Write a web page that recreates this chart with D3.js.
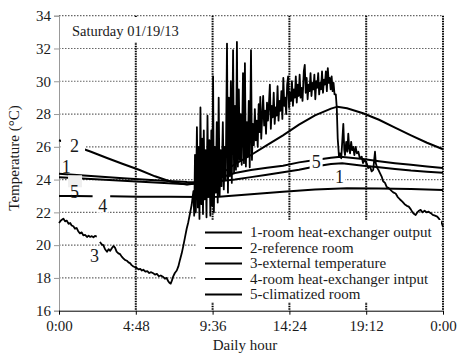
<!DOCTYPE html>
<meta charset="utf-8">
<html>
<head>
<style>
body { margin: 0; background: #fff; }
text { font-family: "Liberation Serif", "Times New Roman", serif; fill: #1a1a1a; }
</style>
</head>
<body>
<svg width="459" height="354"></svg>
<script src="https://d3js.org/d3.v7.min.js"></script>
<script>

// hours of the day (0-24) and temperature in degC
var xTicks = [0, 4.8, 9.6, 14.4, 19.2, 24];
var xTickLabels = ["0:00", "4:48", "9:36", "14:24", "19:12", "0:00"];
var yTicks = [16, 18, 20, 22, 24, 26, 28, 30, 32, 34];

var legendLabels = ["1-room heat-exchanger output", "2-reference room", "3-external temperature",
  "4-room heat-exchanger intput", "5-climatized room"];

// 1 - room heat-exchanger output
var series1 = [[0,24.35],[2,24.22],[4,24.08],[6,23.96],[8,23.85],[9,23.84],[10,23.9],[11,24.0],[12,24.15],
  [13,24.3],[14,24.45],[15,24.6],[16,24.8],[17,24.95],[17.7,25.0],[19,24.85],[20,24.75],[21,24.65],
  [22,24.55],[23,24.48],[24,24.42]];

// 2 - reference room
var series2 = [[0,26.4],[1,26.05],[2,25.7],[3,25.32],[4,24.95],[5,24.6],[6,24.2],[7,23.87],[8,23.7],
  [9,23.8],[9.5,24.0],[10,24.3],[10.5,24.6],[11,24.95],[12,25.5],[13,26.1],[14,26.7],[15,27.35],
  [16,27.92],[17,28.33],[17.4,28.45],[18,28.35],[19,28.05],[20,27.65],[21,27.17],[22,26.7],[23,26.25],[24,25.85]];

// 3 - external temperature (logger gap around 2:30)
var series3 = [[0,21.35],[0.12,21.5],[0.27,21.62],[0.38,21.45],[0.48,21.5],[0.6,21.3],[0.7,21.35],[0.79,21.2],
  [0.9,21.15],[1.0,21.0],[1.1,21.05],[1.2,20.85],[1.31,20.72],[1.42,20.78],[1.52,20.6],[1.63,20.62],[1.75,20.5],
  [1.85,20.58],[1.94,20.5],[2.05,20.55],[2.15,20.48],[2.25,20.56],[2.36,20.52],[2.45,null],
  [2.56,20.2],[2.66,20.05],[2.77,20.0],[2.88,19.75],[3.0,19.6],[3.1,19.75],[3.2,19.65],[3.29,19.8],[3.4,19.95],
  [3.5,19.85],[3.6,19.6],[3.71,19.5],[3.82,19.45],[3.92,19.3],[4.02,19.2],[4.12,19.1],[4.24,19.05],[4.34,18.95],
  [4.44,18.9],[4.54,18.78],[4.65,18.7],[4.76,18.65],[4.86,18.6],[4.97,18.52],[5.08,18.55],[5.18,18.45],[5.27,18.5],
  [5.4,18.38],[5.52,18.42],[5.64,18.3],[5.76,18.35],[5.89,18.28],[6.0,18.2],[6.12,18.25],[6.24,18.1],[6.36,18.15],
  [6.52,18.05],[6.62,17.95],[6.72,18.0],[6.83,17.8],[6.9,17.7],[6.98,17.65],[7.06,17.85],[7.14,18.1],[7.24,18.3],
  [7.36,18.45],[7.46,18.7],[7.56,19.1],[7.67,19.5],[7.78,20.0],[7.88,20.5],[7.98,21.0],[8.08,21.4],[8.18,21.9],
  [8.29,22.45],
  [8.40,23.3],[8.45,21.8],[8.50,25.5],[8.55,22.0],[8.62,27.2],[8.68,22.3],[8.72,26.0],[8.78,21.6],[8.84,28.4],
  [8.90,22.5],[8.95,26.5],[9.00,21.9],[9.05,27.0],[9.10,22.8],[9.16,25.8],[9.22,21.7],[9.28,27.9],[9.34,23.0],
  [9.40,26.4],[9.46,21.8],[9.52,27.0],[9.58,22.4],[9.63,30.3],[9.68,22.0],[9.74,26.0],[9.80,23.2],[9.86,27.5],
  [9.92,22.6],[9.98,29.0],[10.04,23.0],[10.10,25.8],[10.16,23.6],[10.24,27.5],[10.30,23.4],[10.36,26.0],
  [10.42,24.0],[10.50,32.3],[10.56,23.2],[10.62,29.0],[10.68,24.2],[10.74,30.0],[10.80,23.8],[10.88,31.9],
  [10.94,24.4],[11.00,28.5],[11.06,24.6],[11.12,32.4],[11.18,24.8],[11.24,29.5],[11.30,25.2],[11.36,28.0],
  [11.42,24.9],[11.50,30.5],[11.56,25.0],[11.62,31.1],[11.68,24.8],[11.74,27.5],[11.80,25.4],[11.86,28.8],
  [11.92,24.75],[12.00,31.9],[12.06,25.2],[12.12,27.4],[12.18,26.1],[12.24,28.3],[12.30,26.4],[12.36,27.6],
  [12.42,26.0],[12.48,28.6],[12.54,26.9],[12.58,29.05],[12.64,26.5],[12.70,27.9],[12.76,29.1],[12.82,27.3],
  [12.88,28.2],[12.94,26.8],[13.00,28.7],[13.06,27.6],[13.12,28.6],[13.18,29.8],[13.24,27.1],[13.30,28.5],
  [13.36,27.8],[13.42,29.3],[13.48,27.4],[13.54,28.4],[13.60,27.9],[13.66,29.7],[13.72,27.6],[13.78,28.8],
  [13.84,28.2],[13.90,29.4],[13.96,27.7],[14.02,30.2],[14.08,28.5],[14.14,29.0],[14.20,28.0],[14.26,29.8],
  [14.32,30.3],[14.38,28.4],[14.44,29.3],[14.50,28.8],[14.56,30.0],[14.62,28.5],[14.68,29.5],[14.74,29.0],
  [14.80,30.3],[14.86,28.7],[14.92,29.8],[14.98,29.1],[15.04,30.4],[15.10,29.0],[15.16,29.6],[15.22,28.8],
  [15.30,30.6],[15.36,31.0],[15.42,29.3],[15.48,30.2],[15.54,28.9],[15.60,29.8],[15.66,29.4],[15.72,30.5],
  [15.78,29.1],[15.84,29.9],[15.90,29.5],[15.96,30.4],[16.02,28.9],[16.08,30.0],[16.14,29.6],[16.20,30.5],
  [16.26,29.2],[16.32,29.9],[16.38,29.5],[16.44,30.6],[16.50,29.3],[16.56,30.1],[16.62,29.8],[16.68,30.6],
  [16.74,29.4],[16.80,30.8],[16.86,29.9],[16.92,30.2],[16.98,29.5],[17.04,30.3],[17.10,29.4],[17.16,29.9],
  [17.22,29.2],[17.30,29.2],
  [17.36,28.4],[17.42,26.5],[17.50,25.4],[17.56,25.6],[17.64,25.3],[17.72,26.6],[17.77,27.4],[17.83,25.8],
  [17.875,25.5],[17.95,26.3],[18.02,25.7],[18.08,26.8],[18.14,25.9],[18.19,25.6],[18.26,26.3],[18.32,25.8],
  [18.39,26.0],[18.46,25.5],[18.54,26.0],[18.62,25.6],[18.71,25.7],[18.80,25.3],[18.92,25.4],[19.00,25.0],
  [19.10,25.2],[19.23,25.0],[19.32,24.7],[19.44,24.8],[19.54,24.5],[19.64,24.6],[19.70,25.2],[19.75,25.7],
  [19.80,25.0],[19.89,24.7],[19.96,24.6],[20.06,24.4],[20.16,24.2],[20.26,23.9],[20.375,23.8],[20.48,23.55],
  [20.58,23.5],[20.69,23.4],[20.80,23.3],[20.92,23.2],[21.04,23.15],[21.16,22.95],[21.30,22.8],[21.46,22.65],
  [21.60,22.5],[21.74,22.4],[21.86,22.35],[21.98,22.2],[22.10,22.0],[22.20,21.9],[22.29,21.84],[22.40,22.0],
  [22.50,22.1],[22.60,22.15],[22.72,22.0],[22.85,22.1],[22.98,22.0],[23.10,22.04],[23.24,21.95],[23.36,21.85],
  [23.50,21.8],[23.64,21.74],[23.76,21.6],[23.86,21.45],[23.96,21.25],[24.00,21.1]];

// 4 - room heat-exchanger input (same logger gap)
var series4 = [[0,23.0],[1,23.0],[2.1,22.98],[2.2,null],[3.2,22.98],[5,22.96],[7,22.95],[9,22.94],[10,22.96],
  [12,23.1],[14,23.26],[16,23.4],[18,23.47],[20,23.46],[22,23.42],[24,23.37]];

// 5 - climatized room
var series5 = [[0,24.15],[2,24.04],[4,23.93],[6,23.82],[8,23.72],[9,23.82],[10,24.1],[11,24.4],[12,24.58],
  [13,24.72],[14,24.85],[15,25.05],[16,25.2],[17,25.33],[17.6,25.4],[19,25.25],[20,25.12],[21,25.0],
  [22,24.9],[23,24.8],[24,24.7]];

// curve numbers written next to the lines [hour, temp, label]
var curveLabels = [[0.69, 25.7, "2"], [0.17, 24.38, "1"], [0.69, 22.86, "5"], [2.46, 22.04, "4"], [1.94, 18.95, "3"],
  [15.79, 24.69, "5"], [17.25, 23.77, "1"]];

var svg = d3.select("svg");

var x = d3.scaleLinear().domain([0, 24]).range([59, 443]);
var y = d3.scaleLinear().domain([16, 34]).range([310.7, 15.7]);

// horizontal grid
svg.append("g")
  .selectAll("line")
  .data(yTicks.slice(1))
  .enter().append("line")
    .attr("x1", x(0)).attr("x2", x(24))
    .attr("y1", function(d) { return y(d); })
    .attr("y2", function(d) { return y(d); })
    .attr("stroke", "#666")
    .attr("stroke-width", 1.2)
    .attr("stroke-dasharray", "1.5,1.5");

// vertical grid
svg.append("g")
  .selectAll("line")
  .data(xTicks.slice(1))
  .enter().append("line")
    .attr("x1", function(d) { return x(d); })
    .attr("x2", function(d) { return x(d); })
    .attr("y1", y(34)).attr("y2", y(16))
    .attr("stroke", "#000")
    .attr("stroke-width", 2)
    .attr("stroke-dasharray", "1.5,1");

// white box behind the date
svg.append("rect").attr("x", 68).attr("y", 17).attr("width", 122).attr("height", 25).attr("fill", "#fff");
svg.append("text").attr("x", 72).attr("y", 36).attr("font-size", 14.5).text("Saturday 01/19/13");

// axes (d3 sets font-family on call, so override afterwards)
var yAxis = svg.append("g")
  .attr("transform", "translate(" + x(0) + ",0)")
  .call(d3.axisLeft(y).tickValues(yTicks).tickSize(5).tickPadding(3));
yAxis.attr("font-family", "Liberation Serif");
yAxis.selectAll("path, line").attr("stroke", "#999");
yAxis.selectAll("text").attr("font-size", 15).attr("fill", "#222");

var xAxis = svg.append("g")
  .attr("transform", "translate(0," + y(16) + ")")
  .call(d3.axisBottom(x).tickValues(xTicks).tickFormat(function(d, i) { return xTickLabels[i]; })
    .tickSize(4).tickPadding(6).tickSizeOuter(0));
xAxis.attr("font-family", "Liberation Serif");
xAxis.selectAll("path, line").attr("stroke", "#000");
xAxis.selectAll("text").attr("font-size", 15).attr("fill", "#222");

svg.append("text")
  .attr("transform", "translate(19,158) rotate(-90)")
  .attr("text-anchor", "middle")
  .attr("font-size", 15)
  .text("Temperature (°C)");

svg.append("text")
  .attr("x", 245).attr("y", 350)
  .attr("text-anchor", "middle")
  .attr("font-size", 15)
  .text("Daily hour");

var line = d3.line()
  .defined(function(d) { return d[1] != null; })
  .x(function(d) { return x(d[0]); })
  .y(function(d) { return y(d[1]); });

[series4, series1, series5, series2].forEach(function(s) {
  svg.append("path").datum(s)
    .attr("d", line)
    .attr("fill", "none")
    .attr("stroke", "#000")
    .attr("stroke-width", 2);
});

svg.append("path").datum(series3)
  .attr("d", line)
  .attr("fill", "none")
  .attr("stroke", "#000")
  .attr("stroke-width", 1.8)
  .attr("stroke-linejoin", "round");

// legend
var legend = svg.append("g");
legend.append("rect").attr("x", 197).attr("y", 220).attr("width", 244).attr("height", 82).attr("fill", "#fff");
legendLabels.forEach(function(l, i) {
  var ly = 232.5 + i * 15.5;
  legend.append("line").attr("x1", 205).attr("x2", 242).attr("y1", ly).attr("y2", ly)
    .attr("stroke", "#000").attr("stroke-width", 2);
  legend.append("text").attr("x", 250).attr("y", ly + 4.5).attr("font-size", 15).text(l);
});

// curve numbers, each on its own little box
var boxes = [[-9, -14, 24, 16, "#fff"], [0, 0, 0, 0, "#fff"], [-2, -23, 14, 12, "#efefef"], [-1, -13, 11, 14, "#fff"],
  [-1, -13, 11, 14, "#fff"], [-2, -12, 13, 13, "#fff"], [-1, -12, 11, 13, "#fff"]];
curveLabels.forEach(function(c, i) {
  var g = svg.append("g").attr("transform", "translate(" + x(c[0]) + "," + y(c[1]) + ")");
  var b = boxes[i];
  g.append("rect").attr("x", b[0]).attr("y", b[1]).attr("width", b[2]).attr("height", b[3]).attr("fill", b[4]);
  g.append("text").attr("font-size", 18).text(c[2]);
});

</script>
</body>
</html>
